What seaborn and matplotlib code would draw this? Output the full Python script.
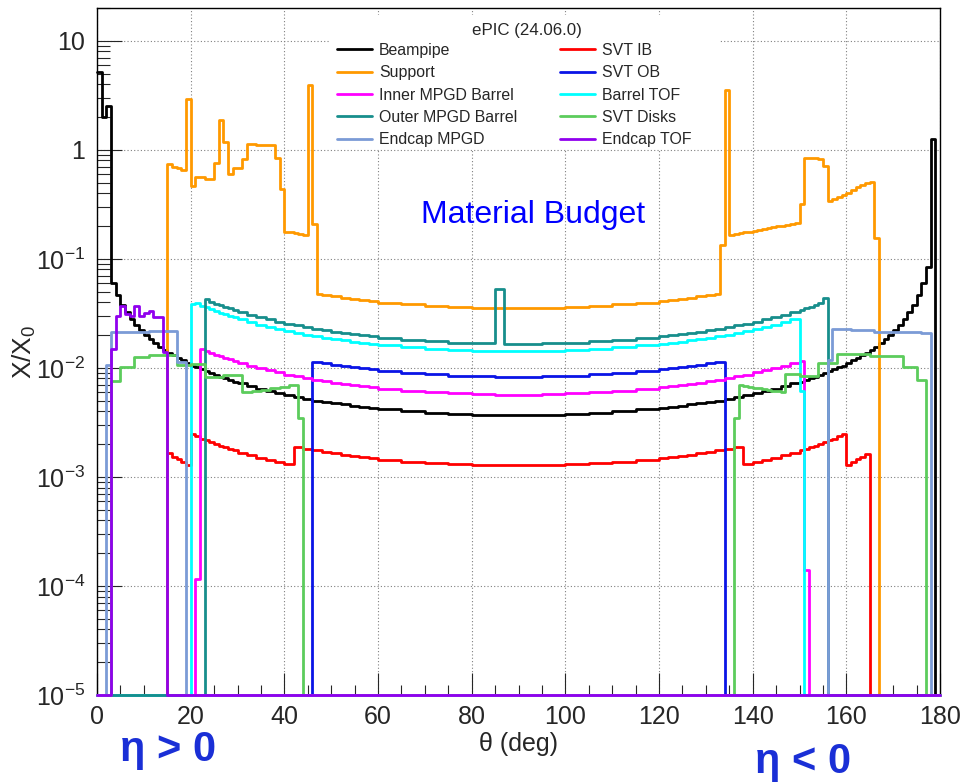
import numpy as np
import seaborn as sns
import matplotlib.pyplot as plt
from matplotlib.patches import Rectangle
from matplotlib.ticker import MultipleLocator, LogLocator, FixedLocator, NullFormatter

# ---------------- data: X/X0 per theta bin (deg) ----------------
beampipe_edges = np.r_[0:30:1, 30:60:2, 60:120:5, 120:150:2, 150:181:1]
beampipe_vals = [5.2, 2.0, 2.55, 0.060, 0.047, 0.038, 0.0325, 0.028, 0.025, 0.0222,
                 0.0201, 0.0185, 0.0170, 0.0157, 0.0147, 0.0138, 0.0130, 0.0123, 0.0117, 0.0111,
                 0.0105, 0.0101, 0.0097, 0.0093, 0.0089, 0.0086, 0.0083, 0.0080, 0.0078, 0.0075,
                 0.0072, 0.0068, 0.00645, 0.00615, 0.0059, 0.00565, 0.0054, 0.0052, 0.0050, 0.0049,
                 0.00475, 0.00465, 0.0045, 0.0044, 0.0043,
                 0.00417, 0.0040, 0.00388, 0.0038, 0.00373, 0.0037, 0.0037, 0.00373, 0.0038, 0.00388,
                 0.0040, 0.00417,
                 0.0043, 0.0044, 0.0045, 0.00465, 0.00475, 0.0049, 0.0050, 0.0052, 0.0054, 0.00565,
                 0.0059, 0.00615, 0.00645, 0.0068, 0.0072,
                 0.0075, 0.0078, 0.0080, 0.0083, 0.0086, 0.0089, 0.0093, 0.0097, 0.0101, 0.0105,
                 0.0111, 0.0117, 0.0123, 0.0130, 0.0138, 0.0147, 0.0157, 0.0170, 0.0185, 0.0201,
                 0.0222, 0.025, 0.028, 0.0325, 0.038, 0.047, 0.060, 0.085, 1.26, 0.0]

support_edges = np.r_[15:48:1, 48:60:2, 60:120:5, 120:132:2, 132:168:1]
support_vals = [0.74, 0.70, 0.68, 0.65, 2.9, 0.47, 0.56, 0.56, 0.54, 0.54,
                0.76, 1.86, 1.18, 0.60, 0.68, 0.68, 0.83, 1.13, 1.13, 1.10,
                1.10, 1.10, 1.10, 0.85, 0.436, 0.177, 0.175, 0.172, 0.170, 0.167,
                3.95, 0.21, 0.048,
                0.0468, 0.0454, 0.0442, 0.0431, 0.0421, 0.0412,
                0.0398, 0.0382, 0.0370, 0.0361, 0.0356, 0.0353, 0.0353, 0.0356, 0.0361, 0.0370,
                0.0382, 0.0398,
                0.0412, 0.0421, 0.0431, 0.0442, 0.0454, 0.0468,
                0.048, 0.134, 3.55,
                0.166, 0.169, 0.172, 0.175, 0.178, 0.182, 0.185, 0.188, 0.192, 0.195,
                0.199, 0.202, 0.206, 0.210, 0.215,
                0.318, 0.85, 0.85, 0.84, 0.82, 0.71,
                0.34, 0.355, 0.373, 0.387, 0.406, 0.43, 0.455, 0.48, 0.50, 0.51,
                0.155]

inner_mpgd_edges = np.r_[21:30:1, 30:60:2, 60:120:5, 120:150:2, 150:153:1]
inner_mpgd_vals = [0.000116, 0.0149, 0.0143, 0.0137, 0.0132, 0.0128, 0.0124, 0.0120, 0.0116,
                   0.0111, 0.0105, 0.0099, 0.0095, 0.0091, 0.0087, 0.0084, 0.0081, 0.0078, 0.00755,
                   0.0073, 0.0071, 0.0070, 0.0068, 0.00665,
                   0.0064, 0.0062, 0.0060, 0.00584, 0.00575, 0.0057, 0.0057, 0.00575, 0.00584, 0.0060,
                   0.0062, 0.0064,
                   0.00665, 0.0068, 0.0070, 0.0071, 0.0073, 0.00755, 0.0078, 0.0081, 0.0084, 0.0087,
                   0.0091, 0.0095, 0.0099, 0.0105, 0.0111,
                   0.0116, 0.00014]

outer_mpgd_edges = np.r_[23:30:1, 30:60:2, 60:85:5, 85, 87, 90:120:5, 120:150:2, 150:157:1]
outer_mpgd_vals = [0.0425, 0.0402, 0.0387, 0.0374, 0.0362, 0.0351, 0.0339,
                   0.0324, 0.0307, 0.0291, 0.0278, 0.0265, 0.0255, 0.0245, 0.0236, 0.0228, 0.0221,
                   0.0215, 0.0209, 0.0204, 0.0199, 0.0195,
                   0.0188, 0.0181, 0.0175, 0.0171, 0.0168, 0.053, 0.0167,
                   0.0167, 0.0168, 0.0171, 0.0175, 0.0181, 0.0188,
                   0.0195, 0.0199, 0.0204, 0.0209, 0.0215, 0.0221, 0.0228, 0.0236, 0.0245, 0.0255,
                   0.0265, 0.0278, 0.0291, 0.0307, 0.0324,
                   0.0339, 0.0351, 0.0362, 0.0374, 0.0390, 0.0435]

endcap_mpgd_edges = [2, 3, 11, 17, 19, 156, 157, 161, 166, 172, 176, 178]
endcap_mpgd_vals = [0.0107, 0.0212, 0.0218, 0.0113, 0.0, 0.0118, 0.0226, 0.0221, 0.0215, 0.0212, 0.0209]

svt_ib_edges = np.r_[15:30:1, 30:60:2, 60:120:5, 120:150:2, 150:166:1]
svt_ib_vals = [0.00165, 0.00153, 0.00145, 0.00136, 0.00128, 0.00247, 0.00235, 0.00224, 0.00216, 0.00207,
               0.00200, 0.00193, 0.00187, 0.00181, 0.00175,
               0.00167, 0.00158, 0.00150, 0.00143, 0.00137, 0.00131,
               0.00188, 0.00181, 0.00175, 0.00170, 0.00165, 0.00160, 0.00156, 0.00153, 0.00149,
               0.00144, 0.00138, 0.00134, 0.00131, 0.00129, 0.00128, 0.00128, 0.00129, 0.00131, 0.00134,
               0.00138, 0.00144,
               0.00149, 0.00153, 0.00156, 0.00160, 0.00165, 0.00170, 0.00175, 0.00181, 0.00188,
               0.00131, 0.00137, 0.00143, 0.00150, 0.00158, 0.00167,
               0.00175, 0.00181, 0.00187, 0.00193, 0.00200, 0.00207, 0.00216, 0.00224, 0.00235, 0.00247,
               0.00128, 0.00136, 0.00145, 0.00153, 0.00163]

svt_ob_edges = np.r_[46:60:2, 60:120:5, 120:135:2]
svt_ob_vals = [0.01135, 0.0110, 0.01068, 0.01039, 0.01013, 0.00989, 0.00969,
               0.00935, 0.00898, 0.00871, 0.0085, 0.00837, 0.00831, 0.00831, 0.00837, 0.0085, 0.00871,
               0.00898, 0.00935,
               0.00969, 0.00989, 0.01013, 0.01039, 0.01068, 0.0110, 0.01135]

barrel_tof_edges = np.r_[20:30:1, 30:60:2, 60:120:5, 120:150:2, 150:152:1]
barrel_tof_vals = [0.0385, 0.0395, 0.0373, 0.0359, 0.0345, 0.0332, 0.0320, 0.0310, 0.0300, 0.0290,
                   0.0278, 0.0263, 0.0249, 0.0238, 0.0227, 0.0218, 0.0210, 0.0202, 0.01955, 0.01895,
                   0.0184, 0.0179, 0.01746, 0.01705, 0.0167,
                   0.0161, 0.01547, 0.0150, 0.01464, 0.01443, 0.0143, 0.0143, 0.01443, 0.01464, 0.0150,
                   0.01547, 0.0161,
                   0.0167, 0.01705, 0.01746, 0.0179, 0.0184, 0.01895, 0.01955, 0.0202, 0.0210, 0.0218,
                   0.0227, 0.0238, 0.0249, 0.0263, 0.0278,
                   0.0061]

svt_disks_edges = [3, 5, 8, 11, 17, 20, 23, 27, 31, 33, 35, 37, 39, 41, 43, 44,
                   136, 137, 138, 139, 140, 141, 142, 143, 144, 145, 146, 147,
                   150, 154, 158, 165, 172, 175, 177]
svt_disks_vals = [0.0076, 0.0101, 0.0127, 0.0130, 0.0106, 0.0109, 0.0083, 0.0086,
                  0.0060, 0.0061, 0.0063, 0.0065, 0.0067, 0.0069, 0.0035, 0.0,
                  0.0035, 0.0070, 0.0068, 0.0067, 0.0066, 0.0065, 0.0064, 0.0063, 0.0062, 0.0061, 0.0060,
                  0.0088, 0.0084, 0.0110, 0.0135, 0.0129, 0.0102, 0.0077]

endcap_tof_edges = [3, 4, 5, 6, 7, 8, 9, 10, 11, 12, 13, 14, 15]
endcap_tof_vals = [0.015, 0.030, 0.037, 0.031, 0.030, 0.037, 0.030, 0.032, 0.033, 0.029, 0.029, 0.014]

# legend order (left column then right column)
series = [
    ('Beampipe', beampipe_edges, beampipe_vals, '#000000'),
    ('Support', support_edges, support_vals, '#ff9900'),
    ('Inner MPGD Barrel', inner_mpgd_edges, inner_mpgd_vals, '#ff00ff'),
    ('Outer MPGD Barrel', outer_mpgd_edges, outer_mpgd_vals, '#178e8c'),
    ('Endcap MPGD', endcap_mpgd_edges, endcap_mpgd_vals, '#7b9bd6'),
    ('SVT IB', svt_ib_edges, svt_ib_vals, '#ff0000'),
    ('SVT OB', svt_ob_edges, svt_ob_vals, '#0a14e6'),
    ('Barrel TOF', barrel_tof_edges, barrel_tof_vals, '#00ffff'),
    ('SVT Disks', svt_disks_edges, svt_disks_vals, '#5ccc5c'),
    ('Endcap TOF', endcap_tof_edges, endcap_tof_vals, '#9000ee'),
]
draw_order = [0, 5, 1, 6, 2, 7, 3, 8, 4, 9]

Y_MIN, Y_MAX = 1e-5, 20


def stairs(edges, vals):
    '''pad a histogram to the full 0-180 range, empty bins sit on the axis floor'''
    x = [float(e) for e in edges]
    y = [float(v) for v in vals]
    if x[0] > 0:
        x.insert(0, 0.0)
        y.insert(0, 0.0)
    if x[-1] < 180:
        x.append(180.0)
        y.append(0.0)
    y.append(y[-1])
    return np.array(x), np.clip(y, Y_MIN, None)


sns.set_style('ticks')
plt.rcParams['font.family'] = ['Liberation Sans', 'DejaVu Sans']
plt.rcParams['mathtext.fontset'] = 'custom'
plt.rcParams['mathtext.rm'] = 'Liberation Sans'
plt.rcParams['mathtext.it'] = 'Liberation Sans:italic'
plt.rcParams['mathtext.bf'] = 'Liberation Sans:bold'

fig = plt.figure(figsize=(9.65, 7.83), dpi=100)
ax = fig.add_axes([97 / 965, 88 / 783, 843 / 965, 687 / 783])

handles = {}
for i in draw_order:
    name, edges, vals, color = series[i]
    x, y = stairs(edges, vals)
    sns.lineplot(x=x, y=y, drawstyle='steps-post', color=color, lw=2.0,
                 estimator=None, sort=False, ax=ax, label=name)
    line = ax.lines[-1]
    line.set_clip_on(False)
    line.set_zorder(3)
    handles[name] = line

ax.set_yscale('log')
ax.set_xlim(0, 180)
ax.set_ylim(Y_MIN, Y_MAX)

# ticks
ax.xaxis.set_major_locator(MultipleLocator(20))
ax.xaxis.set_minor_locator(MultipleLocator(5))
ytick_vals = [1e-5, 1e-4, 1e-3, 1e-2, 1e-1, 1, 10]
ytick_labels = ['$10^{-5}$', '$10^{-4}$', '$10^{-3}$', '$10^{-2}$', '$10^{-1}$', '1', '10']
ax.yaxis.set_major_locator(FixedLocator(ytick_vals))
ax.set_yticklabels(ytick_labels)
ax.yaxis.set_minor_locator(LogLocator(base=10, subs=np.arange(2, 10), numticks=20))
ax.yaxis.set_minor_formatter(NullFormatter())

ax.tick_params(axis='x', which='major', direction='in', length=15.5, width=0.8,
               labelsize=18, pad=7, top=False)
ax.tick_params(axis='x', which='minor', direction='in', length=7, width=0.8, top=False)
ax.tick_params(axis='y', which='major', direction='in', length=18, width=0.8,
               labelsize=18, pad=8.5, right=False)
ax.tick_params(axis='y', which='minor', direction='in', length=9, width=0.8, right=False)

ax.grid(True, which='major', linestyle=(0, (1, 2)), color='#808080', linewidth=0.8)
for sp in ax.spines.values():
    sp.set_color('black')
    sp.set_linewidth(1.0)
    sp.set_visible(True)

ax.set_xlabel('θ (deg)', fontsize=18)
ax.set_ylabel('X/X$_{0}$', fontsize=19)
ax.xaxis.set_label_coords(0.5, -0.054)
ax.yaxis.set_label_coords(-0.07, 0.5)

# legend box (ROOT style): white pad hiding the grid, header, two columns
ax.add_patch(Rectangle((233 / 843, 546 / 687), 389 / 843, 134 / 687, transform=ax.transAxes,
                       facecolor='white', edgecolor='none', zorder=1))
ax.text(430 / 843, 665 / 687, 'ePIC (24.06.0)', transform=ax.transAxes, fontsize=12.2,
        ha='center', va='center', zorder=4)
order = [s[0] for s in series]
leg = ax.legend([handles[n] for n in order], order, ncol=2, loc='upper left',
                bbox_to_anchor=(337 / 965, 1 - 43 / 783), bbox_transform=fig.transFigure,
                fontsize=11.4, frameon=False, handlelength=2.2, handletextpad=0.44,
                columnspacing=2.72, labelspacing=0.46, borderpad=0, borderaxespad=0)

fig.text(533 / 965, 1 - 215 / 783, 'Material Budget', fontsize=23, color='#0000ff',
         ha='center', va='center')
fig.text(120 / 965, 1 - 750 / 783, 'η > 0', fontsize=30, fontweight='bold', color='#1a2fd6',
         ha='left', va='center')
fig.text(755 / 965, 1 - 762 / 783, 'η < 0', fontsize=30, fontweight='bold', color='#1a2fd6',
         ha='left', va='center')

fig.savefig('out.png', dpi=100)
plt.close(fig)
